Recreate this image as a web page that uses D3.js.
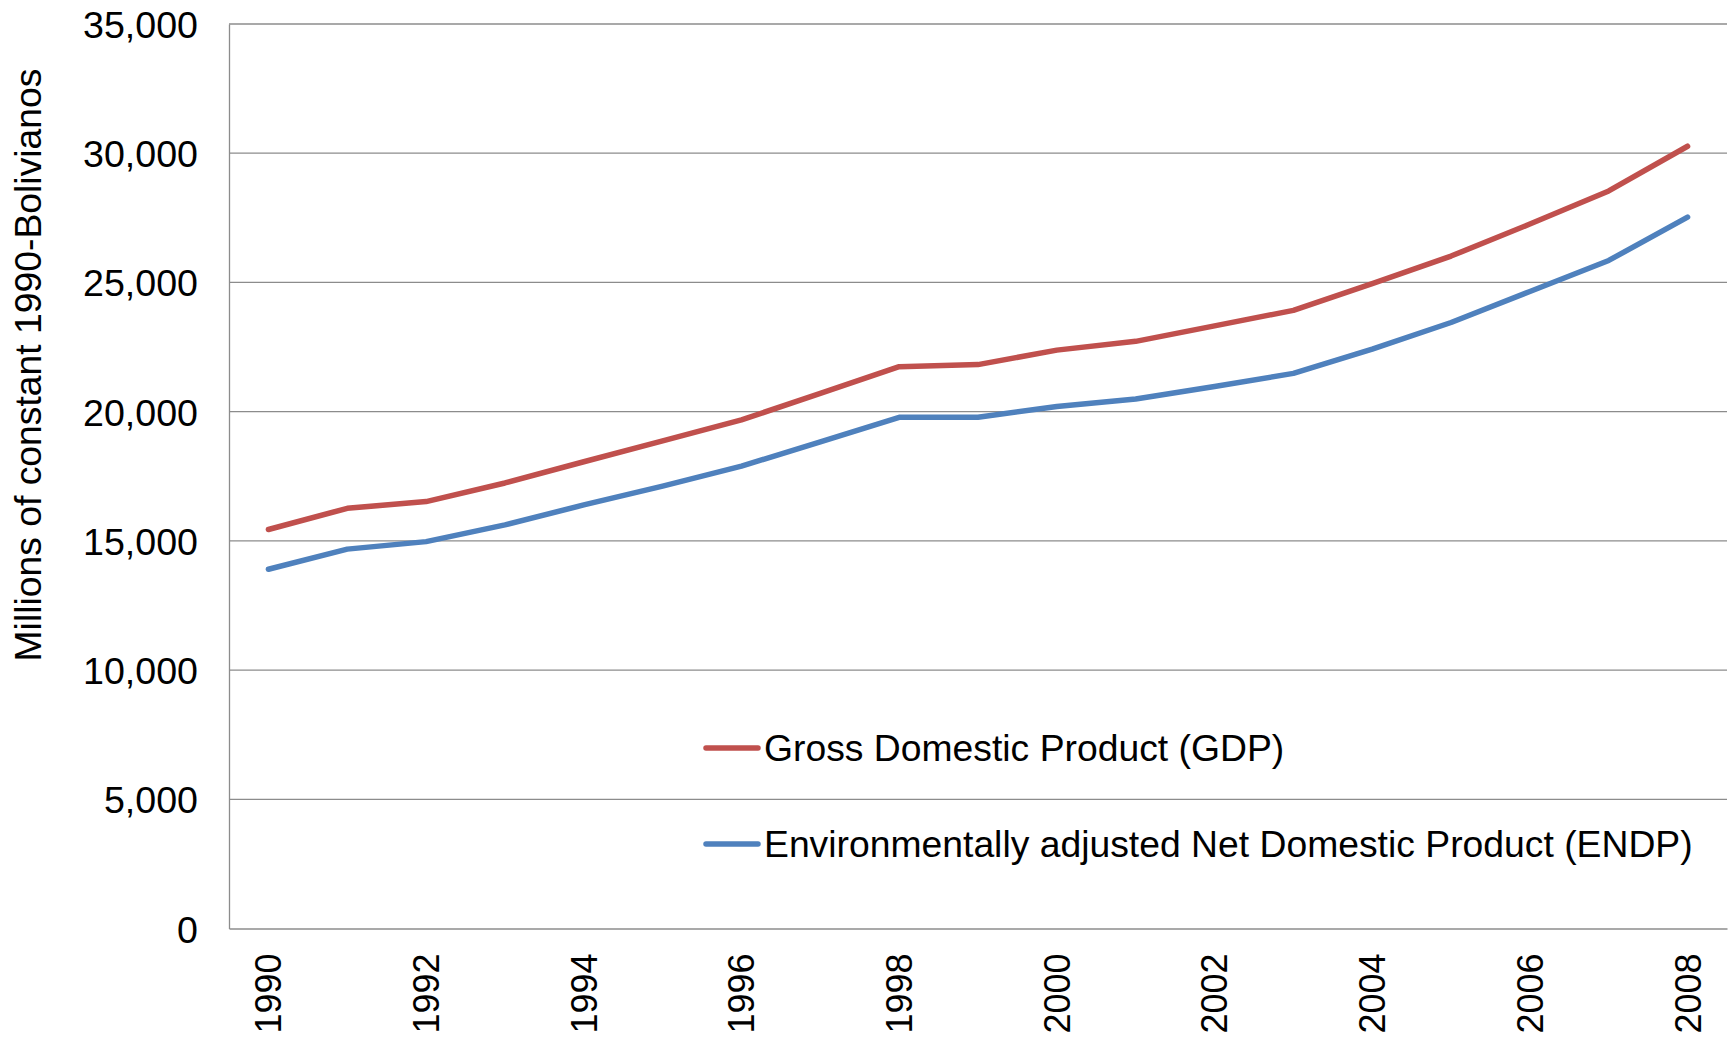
<!DOCTYPE html>
<html>
<head>
<meta charset="utf-8">
<script src="https://cdn.jsdelivr.net/npm/d3@7"></script>
<style>
  html, body { margin: 0; padding: 0; background: #fff; }
  svg { display: block; font-family: "Liberation Sans", Arial, sans-serif; }
</style>
</head>
<body>
<script>
const years = ["1990","1991","1992","1993","1994","1995","1996","1997","1998","1999","2000","2001","2002","2003","2004","2005","2006","2007","2008"];
const gdp  = [15440, 16260, 16520, 17240, 18060, 18870, 19680, 20710, 21740, 21820, 22380, 22720, 23320, 23920, 24950, 26020, 27260, 28540, 30270];
const endp = [13900, 14680, 14970, 15620, 16390, 17120, 17890, 18830, 19780, 19780, 20200, 20490, 20970, 21480, 22420, 23450, 24650, 25850, 27530];
const yTicks = [0, 5000, 10000, 15000, 20000, 25000, 30000, 35000];
const xTickLabels = ["1990","1992","1994","1996","1998","2000","2002","2004","2006","2008"];
const seriesNames = ["Gross Domestic Product (GDP)", "Environmentally adjusted Net Domestic Product (ENDP)"];
const seriesColors = ["#C0504D", "#4F81BD"];
const yTitle = "Millions of constant 1990-Bolivianos";

const W = 1734, H = 1037;
const mLeft = 229, mRight = 1727, mTop = 24, mBottom = 928.5;

const svg = d3.select("body").append("svg").attr("width", W).attr("height", H);

const x = d3.scaleBand().domain(years).range([mLeft, mRight]).padding(0);
const y = d3.scaleLinear().domain([0, 35000]).range([mBottom, mTop]);
const cx = d => x(d) + x.bandwidth() / 2;

// gridlines
svg.append("g").selectAll("line").data(yTicks.filter(t => t > 0)).join("line")
  .attr("x1", mLeft).attr("x2", mRight)
  .attr("y1", d => y(d)).attr("y2", d => y(d))
  .attr("stroke", "#8c8c8c").attr("stroke-width", 1.3);

// y axis
const yAxis = d3.axisLeft(y).tickValues(yTicks).tickSize(0).tickPadding(31)
  .tickFormat(d3.format(","));
const gy = svg.append("g").attr("transform", `translate(${mLeft},0)`).call(yAxis);
gy.select(".domain").attr("stroke", "#8c8c8c").attr("stroke-width", 1.3);
gy.selectAll("text").attr("font-size", 37.6).attr("fill", "#000")
  .attr("font-family", "Liberation Sans, Arial, sans-serif").attr("dy", "0.36em");

// x axis
const xAxis = d3.axisBottom(x).tickValues(xTickLabels).tickSize(0);
const gx = svg.append("g").attr("transform", `translate(0,${mBottom})`).call(xAxis);
gx.select(".domain").attr("stroke", "#8c8c8c").attr("stroke-width", 1.3);
gx.selectAll("text")
  .attr("font-size", 36).attr("fill", "#000")
  .attr("font-family", "Liberation Sans, Arial, sans-serif")
  .attr("text-anchor", "end")
  .attr("transform", "rotate(-90)")
  .attr("x", -25).attr("y", 0).attr("dy", "0.36em");

// y title
svg.append("text")
  .attr("transform", `translate(28,${365}) rotate(-90)`)
  .attr("text-anchor", "middle").attr("dy", "0.36em")
  .attr("font-size", 37.3).attr("fill", "#000")
  .text(yTitle);

// lines
const line = d3.line().x((d, i) => cx(years[i])).y(d => y(d));
[gdp, endp].forEach((s, i) => {
  svg.append("path").datum(s).attr("d", line)
    .attr("fill", "none").attr("stroke", seriesColors[i])
    .attr("stroke-width", 5.5).attr("stroke-linejoin", "round").attr("stroke-linecap", "round");
});

// legend
const legendY = [748, 844];
const lg = svg.append("g");
seriesNames.forEach((n, i) => {
  lg.append("line").attr("x1", 706).attr("x2", 758)
    .attr("y1", legendY[i]).attr("y2", legendY[i])
    .attr("stroke", seriesColors[i]).attr("stroke-width", 5.5).attr("stroke-linecap", "round");
  lg.append("text").attr("x", 764).attr("y", legendY[i]).attr("dy", "0.36em")
    .attr("font-size", 37.3).attr("fill", "#000").text(n);
});
</script>
</body>
</html>
